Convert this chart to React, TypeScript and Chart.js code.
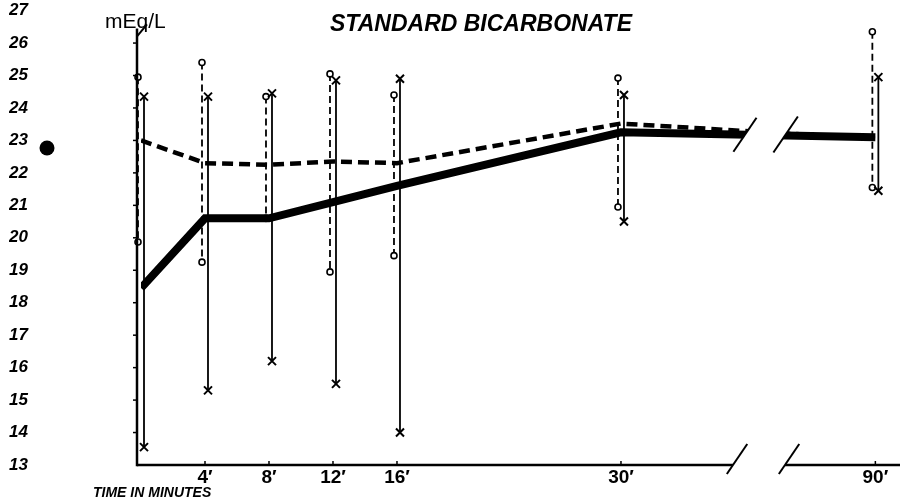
import React, { useEffect, useRef } from "react";
import { Chart, registerables } from "chart.js";

Chart.register(...registerables);

// ---- data ----
const TIMES = [0, 4, 8, 12, 16, 30, 90];
const DASHED_MEAN = [23.0, 22.3, 22.25, 22.35, 22.3, 23.52, 23.05];
const DASHED_MAX = [24.95, 25.4, 24.35, 25.05, 24.4, 24.92, 26.35];
const DASHED_MIN = [19.87, 19.25, 20.6, 18.95, 19.45, 20.95, 21.55];
const SOLID_MEAN = [18.45, 20.6, 20.6, 21.1, 21.6, 23.25, 23.1];
const SOLID_MAX = [24.35, 24.35, 24.45, 24.85, 24.9, 24.4, 24.95];
const SOLID_MIN = [13.55, 15.3, 16.2, 15.5, 14.0, 20.5, 21.45];

const X_TICK_TIMES = [4, 8, 12, 16, 30, 90];
const X_TICK_LABELS = ["4′", "8′", "12′", "16′", "30′", "90′"];

const TITLE = "STANDARD BICARBONATE";
const Y_UNIT = "mEq/L";
const X_TITLE = "TIME IN MINUTES";

// broken time axis: linear up to 30 min, then a gap, then 90 min
const BREAK_AFTER = 30;
const POST_BREAK_ANCHOR = 90;
const POST_BREAK_POS = 45.9;
const BREAK_FROM = 37.75;
const BREAK_TO = 40.25;
const axisPos = (t: number) =>
  t <= BREAK_AFTER ? t : POST_BREAK_POS + (t - POST_BREAK_ANCHOR);

const FONT = "'Liberation Sans', 'DejaVu Sans', sans-serif";

const decor = {
  id: "decor",
  beforeDatasetsDraw(chart: any) {
    const { ctx, scales } = chart;
    const x = scales.x;
    const y = scales.y;
    ctx.save();
    ctx.strokeStyle = "#000";
    ctx.fillStyle = "#fff";
    TIMES.forEach((t, i) => {
      const px = x.getPixelForValue(axisPos(t));
      // dashed range bar (o)
      const dx = px - 3;
      const dTop = y.getPixelForValue(DASHED_MAX[i]);
      const dBot = y.getPixelForValue(DASHED_MIN[i]);
      ctx.lineWidth = 1.8;
      ctx.setLineDash([7, 4]);
      ctx.beginPath();
      ctx.moveTo(dx, dTop);
      ctx.lineTo(dx, dBot);
      ctx.stroke();
      ctx.setLineDash([]);
      // solid range bar (x)
      const sx = px + 3;
      const sTop = y.getPixelForValue(SOLID_MAX[i]);
      const sBot = y.getPixelForValue(SOLID_MIN[i]);
      ctx.beginPath();
      ctx.moveTo(sx, sTop);
      ctx.lineTo(sx, sBot);
      ctx.stroke();
      // o markers
      ctx.lineWidth = 1.6;
      [dTop, dBot].forEach((py) => {
        ctx.beginPath();
        ctx.arc(dx, py, 3, 0, Math.PI * 2);
        ctx.fill();
        ctx.stroke();
      });
      // x markers
      ctx.lineWidth = 2;
      [sTop, sBot].forEach((py) => {
        ctx.beginPath();
        ctx.moveTo(sx - 4, py - 4);
        ctx.lineTo(sx + 4, py + 4);
        ctx.moveTo(sx + 4, py - 4);
        ctx.lineTo(sx - 4, py + 4);
        ctx.stroke();
      });
    });
    ctx.restore();
  },
  afterDatasetsDraw(chart: any) {
    const { ctx, scales, chartArea } = chart;
    const x = scales.x;
    const y = scales.y;
    const b1 = x.getPixelForValue(BREAK_FROM);
    const b2 = x.getPixelForValue(BREAK_TO);
    // y of the solid line at the break (interpolated between 30 and 90)
    const n = TIMES.length;
    const xa = x.getPixelForValue(axisPos(TIMES[n - 2]));
    const xb = x.getPixelForValue(axisPos(TIMES[n - 1]));
    const ya = y.getPixelForValue(SOLID_MEAN[n - 2]);
    const yb = y.getPixelForValue(SOLID_MEAN[n - 1]);
    const yAt = (px: number) => ya + ((px - xa) / (xb - xa)) * (yb - ya);
    const slope = 0.68; // dx per dy of the slash marks
    ctx.save();
    // clear the gap in the data lines
    const cy = yAt((b1 + b2) / 2);
    const top = cy - 40;
    const bot = cy + 40;
    ctx.fillStyle = "#fff";
    ctx.beginPath();
    ctx.moveTo(b1 + (cy - top) * slope, top);
    ctx.lineTo(b2 + (cy - top) * slope, top);
    ctx.lineTo(b2 + (cy - bot) * slope, bot);
    ctx.lineTo(b1 + (cy - bot) * slope, bot);
    ctx.closePath();
    ctx.fill();
    // slash marks on the data lines
    ctx.strokeStyle = "#000";
    ctx.lineWidth = 2;
    [b1, b2].forEach((bx, k) => {
      const c = yAt(bx);
      const up = 17 + k * 2;
      const dn = 17;
      ctx.beginPath();
      ctx.moveTo(bx - dn * slope, c + dn);
      ctx.lineTo(bx + up * slope, c - up);
      ctx.stroke();
    });

    // axes
    const axisX = chartArea.left - 4;
    const right = chartArea.right;
    const base = chartArea.bottom;
    const yTop = y.getPixelForValue(26.45);
    ctx.lineWidth = 2.5;
    ctx.lineCap = "butt";
    ctx.beginPath();
    ctx.moveTo(axisX, base + 1.25);
    ctx.lineTo(axisX, yTop);
    ctx.stroke();
    // little flourish at the top of the y axis
    ctx.lineWidth = 2;
    ctx.beginPath();
    ctx.moveTo(axisX, yTop + 8);
    ctx.lineTo(axisX + 10, yTop - 4);
    ctx.stroke();
    // y tick marks
    ctx.lineWidth = 1.5;
    for (let v = 14; v <= 26; v++) {
      const py = y.getPixelForValue(v);
      ctx.beginPath();
      ctx.moveTo(axisX - 4, py);
      ctx.lineTo(axisX, py);
      ctx.stroke();
    }
    // x axis with break
    const a1 = b1 - 12;
    const a2 = b2;
    ctx.lineWidth = 2.5;
    ctx.beginPath();
    ctx.moveTo(axisX, base);
    ctx.lineTo(a1, base);
    ctx.moveTo(a2, base);
    ctx.lineTo(right, base);
    ctx.stroke();
    ctx.lineWidth = 2;
    [a1, a2].forEach((bx) => {
      ctx.beginPath();
      ctx.moveTo(bx - 9 * slope, base + 9);
      ctx.lineTo(bx + 21 * slope, base - 21);
      ctx.stroke();
    });
    // x tick marks
    ctx.lineWidth = 1.5;
    X_TICK_TIMES.forEach((t) => {
      const px = x.getPixelForValue(axisPos(t));
      ctx.beginPath();
      ctx.moveTo(px, base);
      ctx.lineTo(px, base - 4);
      ctx.stroke();
    });

    // texts
    ctx.fillStyle = "#000";
    ctx.textBaseline = "alphabetic";
    ctx.textAlign = "center";
    ctx.font = `italic bold 23px ${FONT}`;
    ctx.fillText(TITLE, 481, 31, 302);
    ctx.textAlign = "left";
    ctx.font = `21px ${FONT}`;
    ctx.fillText(Y_UNIT, 105, 28, 63);
    ctx.font = `italic bold 14px ${FONT}`;
    ctx.fillText(X_TITLE, 93, 497, 120);
    // round blot left of the scale
    ctx.beginPath();
    ctx.arc(47, 148, 7.5, 0, Math.PI * 2);
    ctx.fill();
    ctx.restore();
  },
};

export default function App() {
  const ref = useRef<HTMLCanvasElement | null>(null);
  useEffect(() => {
    document.body.style.margin = "0";
    const canvas = ref.current;
    if (!canvas) return;
    const chart = new Chart(canvas, {
      type: "line",
      data: {
        datasets: [
          {
            label: "dashed",
            data: TIMES.map((t, i) => ({ x: axisPos(t), y: DASHED_MEAN[i] })),
            borderColor: "#000",
            borderWidth: 4.5,
            borderDash: [11, 6],
            pointRadius: 0,
            tension: 0,
          },
          {
            label: "solid",
            data: TIMES.map((t, i) => ({ x: axisPos(t), y: SOLID_MEAN[i] })),
            borderColor: "#000",
            borderWidth: 8,
            pointRadius: 0,
            tension: 0,
          },
        ],
      },
      options: {
        animation: false,
        responsive: false,
        devicePixelRatio: 1,
        layout: { padding: { left: 9, right: 6, top: 10.6, bottom: 0 } },
        plugins: {
          legend: { display: false },
          tooltip: { enabled: false },
          title: { display: false },
        },
        scales: {
          x: {
            type: "linear",
            min: 0,
            max: 47.44,
            border: { display: false },
            grid: { display: false, drawTicks: false },
            afterBuildTicks: (s: any) => {
              s.ticks = X_TICK_TIMES.map((t) => ({ value: axisPos(t) }));
            },
            afterFit: (s: any) => {
              s.height = 37;
            },
            ticks: {
              autoSkip: false,
              maxRotation: 0,
              padding: 1,
              color: "#000",
              font: { family: FONT, size: 19, weight: "bold" },
              callback: (_v: any, i: number) => X_TICK_LABELS[i],
            },
          },
          y: {
            type: "linear",
            min: 13,
            max: 27,
            border: { display: false },
            grid: { display: false, drawTicks: false },
            afterFit: (s: any) => {
              s.width = 132;
            },
            ticks: {
              stepSize: 1,
              crossAlign: "far",
              padding: 0,
              color: "#000",
              font: { family: FONT, size: 17, style: "italic", weight: "bold" },
            },
          },
        },
      },
      plugins: [decor],
    });
    return () => chart.destroy();
  }, []);
  return (
    <div
      style={{
        position: "fixed",
        left: 0,
        top: 0,
        width: 906,
        height: 502,
        background: "#fff",
      }}
    >
      <canvas ref={ref} width={906} height={502} style={{ width: 906, height: 502 }} />
    </div>
  );
}
